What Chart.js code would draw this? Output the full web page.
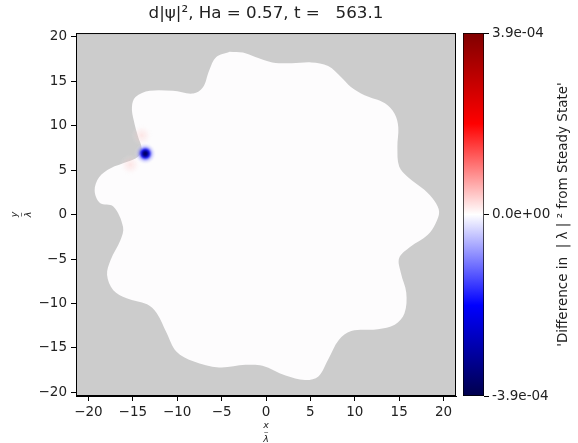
<!DOCTYPE html>
<html>
<head>
<meta charset="utf-8">
<script src="https://cdn.jsdelivr.net/npm/chart.js@4/dist/chart.umd.min.js"></script>
<style>
  html, body { margin: 0; padding: 0; background: #fff; }
  #wrap { position: relative; width: 578px; height: 443px; }
  #main { position: absolute; left: 0; top: 0; }
  #bar { position: absolute; left: 455px; top: 0; }
</style>
</head>
<body>
<div id="wrap">
  <canvas id="main" width="462" height="443"></canvas>
  <canvas id="bar" width="123" height="443"></canvas>
</div>
<script>
// domain boundary (x/λ, y/λ), clockwise from the top lobe
const boundaryX = [-4.1, -2.6, -1.2, 0.7, 2.9, 5.1, 7.0, 8.5, 9.6, 11.1, 13.4, 14.5, 14.9, 14.8, 15.0, 16.0, 17.8, 19.0,
  19.5, 19.1, 18.2, 16.3, 15.0, 15.2, 15.8, 15.6, 14.5, 12.6, 9.6, 8.2, 7.0, 5.9, 4.4, 2.2, -0.4, -2.3, -5.3, -8.2,
  -10.1, -11.2, -12.3, -13.4, -15.7, -17.2, -17.9, -17.5, -16.4, -16.1, -17.2, -18.7, -19.3, -18.8, -17.5, -15.7,
  -14.4, -14.0, -14.4, -14.9, -15.1, -14.7, -13.1, -10.5, -8.2, -7.1, -6.4, -5.6, -4.1];
const boundaryY = [18.3, 18.2, 17.7, 17.1, 17.0, 17.1, 16.7, 15.4, 14.3, 13.4, 12.5, 11.3, 9.8, 7.6, 5.4, 4.2, 2.8, 1.5,
  0.3, -1.0, -2.3, -3.6, -4.9, -6.6, -8.8, -11.1, -12.4, -12.9, -13.1, -14.1, -16.3, -18.2, -18.6, -18.1, -17.0, -16.9,
  -17.2, -16.5, -15.4, -13.3, -11.1, -10.1, -9.4, -8.5, -6.8, -5.1, -2.9, -1.4, 0.9, 1.3, 2.7, 4.2, 5.2, 5.9,
  6.5, 7.4, 8.7, 10.6, 12.1, 13.2, 13.9, 13.9, 13.6, 14.3, 16.2, 17.7, 18.3];

// the one strong spot (blue) and the faint red lobes beside it
const dipX = [-13.6];
const dipY = [6.85];
const bumpX = [-14.0, -15.3];
const bumpY = [8.9, 5.6];

// axes
const xRange = [-21.4, 21.4];
const yRange = [-20.4, 20.4];
const xTicks = [-20, -15, -10, -5, 0, 5, 10, 15, 20];
const yTicks = [-20, -15, -10, -5, 0, 5, 10, 15, 20];

// colour bar
const cbRange = [-3.9e-4, 3.9e-4];
const cbTicks = [-3.9e-4, 0, 3.9e-4];

const FONT = "'DejaVu Sans', sans-serif";
const INK = '#222';

function minusLabel(v) {
    return v < 0 ? '\u2212' + Math.abs(v) : String(v);
}

function sciLabel(v) {
    const parts = v.toExponential(1).split('e');
    const sign = parts[1][0];
    const digits = parts[1].slice(1).padStart(2, '0');
    return parts[0] + 'e' + sign + digits;
}

function makeGlow(size, stops) {
    const c = document.createElement('canvas');
    c.width = size;
    c.height = size;
    const g = c.getContext('2d');
    const grad = g.createRadialGradient(size / 2, size / 2, 0, size / 2, size / 2, size / 2);
    stops.forEach(s => grad.addColorStop(s[0], s[1]));
    g.fillStyle = grad;
    g.fillRect(0, 0, size, size);
    return c;
}

const blueGlow = makeGlow(22, [
    [0, 'rgba(0,0,80,1)'],
    [0.2, 'rgba(0,0,140,1)'],
    [0.38, 'rgba(10,10,235,0.9)'],
    [0.65, 'rgba(140,140,255,0.4)'],
    [1, 'rgba(255,255,255,0)']
]);

const pinkGlow = makeGlow(22, [
    [0, 'rgba(255,185,185,0.35)'],
    [0.5, 'rgba(255,210,210,0.2)'],
    [1, 'rgba(255,255,255,0)']
]);

const panelPlugin = {
    id: 'panel',
    beforeDraw(chart) {
        const a = chart.chartArea;
        const ctx = chart.ctx;
        ctx.save();
        ctx.fillStyle = '#cccccc';
        ctx.fillRect(a.left, a.top, a.right - a.left, a.bottom - a.top);
        ctx.restore();
    },
    afterDraw(chart) {
        const a = chart.chartArea;
        const ctx = chart.ctx;
        ctx.save();
        ctx.strokeStyle = '#000';
        ctx.lineWidth = 1;
        ctx.strokeRect(a.left + 0.5, a.top + 0.5, a.right - a.left - 1, a.bottom - a.top - 1);
        ctx.restore();
    }
};

const shape = boundaryX.map((x, i) => ({ x, y: boundaryY[i] }));

new Chart(document.getElementById('main'), {
    type: 'scatter',
    data: {
        datasets: [
            {
                data: shape,
                showLine: true,
                fill: 'shape',
                tension: 0.35,
                backgroundColor: '#fdfcfd',
                borderColor: '#fdfcfd',
                borderWidth: 0,
                pointRadius: 0,
                order: 3
            },
            {
                data: bumpX.map((x, i) => ({ x, y: bumpY[i] })),
                pointStyle: pinkGlow,
                pointRadius: 5,
                order: 2
            },
            {
                data: dipX.map((x, i) => ({ x, y: dipY[i] })),
                pointStyle: blueGlow,
                pointRadius: 5,
                order: 1
            }
        ]
    },
    options: {
        responsive: false,
        animation: false,
        layout: {
            padding: { left: 0, right: 4, top: 0, bottom: 0 }
        },
        plugins: {
            legend: { display: false },
            tooltip: { enabled: false },
            title: {
                display: true,
                fullSize: false,
                text: 'd|\u03c8|\u00b2, Ha = 0.57, t =   563.1',
                color: INK,
                font: { family: FONT, size: 16.7, weight: 'normal' },
                padding: { top: 4, bottom: 9 }
            }
        },
        scales: {
            x: {
                type: 'linear',
                min: xRange[0],
                max: xRange[1],
                afterBuildTicks: s => { s.ticks = xTicks.map(v => ({ value: v })); },
                afterFit: s => { s.height = 47; },
                grid: {
                    drawOnChartArea: false,
                    drawTicks: true,
                    tickLength: 5,
                    color: '#000'
                },
                border: { display: true, color: '#000' },
                ticks: {
                    color: INK,
                    padding: 3,
                    maxRotation: 0,
                    font: { family: FONT, size: 13.5 },
                    callback: minusLabel
                },
                title: {
                    display: true,
                    text: ['x', '\u2013', '\u03bb'],
                    color: INK,
                    font: { family: FONT, size: 9.5, style: 'italic', lineHeight: 0.75 },
                    padding: { top: 0, bottom: 0 }
                }
            },
            y: {
                type: 'linear',
                min: yRange[0],
                max: yRange[1],
                afterBuildTicks: s => { s.ticks = yTicks.map(v => ({ value: v })); },
                afterFit: s => { s.width = 76; },
                grid: {
                    drawOnChartArea: false,
                    drawTicks: true,
                    tickLength: 5,
                    color: '#000'
                },
                border: { display: true, color: '#000' },
                ticks: {
                    color: INK,
                    padding: 4,
                    font: { family: FONT, size: 13.5 },
                    callback: minusLabel
                },
                title: {
                    display: true,
                    text: ['y', '\u2013', '\u03bb'],
                    color: INK,
                    font: { family: FONT, size: 9.5, style: 'italic', lineHeight: 0.75 },
                    padding: { top: 11, bottom: 0 }
                }
            }
        }
    },
    plugins: [panelPlugin]
});

// seismic colour map, bottom to top
const seismic = [
    [0, '#00004c'],
    [0.25, '#0000ff'],
    [0.5, '#ffffff'],
    [0.75, '#ff0000'],
    [1, '#800000']
];

const cbLabelPlugin = {
    id: 'cbLabel',
    afterDraw(chart) {
        const ctx = chart.ctx;
        const a = chart.chartArea;
        ctx.save();
        ctx.translate(108, (a.top + a.bottom) / 2);
        ctx.rotate(-Math.PI / 2);
        ctx.fillStyle = INK;
        ctx.font = '13.5px ' + FONT;
        ctx.textAlign = 'center';
        ctx.textBaseline = 'middle';
        ctx.fillText("'Difference in  | \u03bb | \u00b2 from Steady State'", 0, 0);
        ctx.restore();
    }
};

new Chart(document.getElementById('bar'), {
    type: 'bar',
    data: {
        labels: ['cb'],
        datasets: [
            {
                data: [cbRange],
                categoryPercentage: 1,
                barPercentage: 1,
                borderSkipped: false,
                borderWidth: 1,
                borderColor: '#000',
                backgroundColor: (c) => {
                    const a = c.chart.chartArea;
                    if (!a) return '#fff';
                    const g = c.chart.ctx.createLinearGradient(0, a.bottom, 0, a.top);
                    seismic.forEach(s => g.addColorStop(s[0], s[1]));
                    return g;
                }
            }
        ]
    },
    options: {
        responsive: false,
        animation: false,
        layout: {
            padding: { left: 8, right: 0, top: 33, bottom: 47 }
        },
        plugins: {
            legend: { display: false },
            tooltip: { enabled: false }
        },
        scales: {
            x: { display: false },
            y: {
                position: 'right',
                min: cbRange[0],
                max: cbRange[1],
                afterBuildTicks: s => { s.ticks = cbTicks.map(v => ({ value: v })); },
                afterFit: s => { s.width = 94; },
                grid: {
                    drawOnChartArea: false,
                    drawTicks: true,
                    tickLength: 5,
                    color: '#000'
                },
                border: { display: false },
                ticks: {
                    color: INK,
                    padding: 3,
                    font: { family: FONT, size: 13.5 },
                    callback: sciLabel
                }
            }
        }
    },
    plugins: [cbLabelPlugin]
});
</script>
</body>
</html>
